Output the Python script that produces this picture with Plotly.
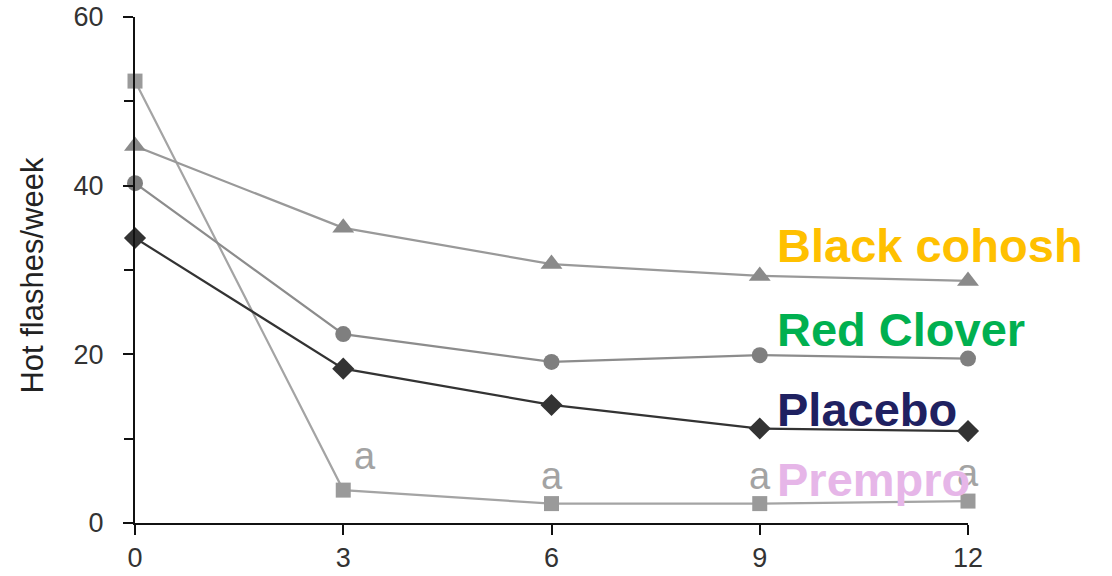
import plotly.graph_objects as go

months = [0, 3, 6, 9, 12]
prempro = [52.4, 3.9, 2.3, 2.3, 2.6]
black_cohosh = [44.7, 35.0, 30.7, 29.3, 28.7]
red_clover = [40.3, 22.4, 19.1, 19.9, 19.5]
placebo = [33.8, 18.3, 14.0, 11.2, 10.9]

x_ticks = [0, 3, 6, 9, 12]
y_ticks = [0, 20, 40, 60]

series = [
    ("Prempro", prempro, "square", "#9a9a9a", "#a4a4a4", 15),
    ("Black cohosh", black_cohosh, "triangle-up", "#8a8a8a", "#999999", 19),
    ("Red Clover", red_clover, "circle", "#7f7f7f", "#8c8c8c", 16),
    ("Placebo", placebo, "diamond", "#333333", "#333333", 17),
]

fig = go.Figure()
for name, vals, sym, mcol, lcol, size in series:
    fig.add_trace(go.Scatter(
        x=months, y=vals, mode="lines+markers", name=name,
        line=dict(color=lcol, width=2.2),
        marker=dict(symbol=sym, size=size, color=mcol),
        cliponaxis=False,
    ))

font_family = "Liberation Sans, Arial, sans-serif"

# significance marks above the Prempro series
sig_x = [3, 6, 9, 12]
sig_shift = [22, 0, 0, 0]
for xv, sx in zip(sig_x, sig_shift):
    yv = prempro[months.index(xv)]
    fig.add_annotation(x=xv, y=yv, text="a", showarrow=False,
                       xshift=sx, yshift=34 if xv == 3 else 28,
                       font=dict(family=font_family, size=38, color="#a3a3a3"))

labels = [
    ("Black cohosh", "#FFC000", 32.9),
    ("Red Clover", "#00B050", 22.9),
    ("Placebo", "#1F2161", 13.4),
    ("Prempro", "#E6B6E8", 5.1),
]
for text, col, yv in labels:
    fig.add_annotation(x=9.22, y=yv, text="<b>%s</b>" % text, showarrow=False,
                       xanchor="left", yanchor="middle",
                       font=dict(family=font_family, size=47, color=col))

fig.add_annotation(xref="paper", yref="paper", x=-0.123, y=0.49,
                   text="Hot flashes/week", textangle=-90, showarrow=False,
                   xanchor="center", yanchor="middle",
                   font=dict(family=font_family, size=31, color="#222222"))

fig.update_layout(
    width=1112, height=576,
    margin=dict(l=135, r=144, t=17, b=53, autoexpand=False),
    paper_bgcolor="white", plot_bgcolor="white",
    showlegend=False,
    font=dict(family=font_family, size=27, color="#333333"),
)
fig.update_xaxes(range=[0, 12], tickvals=x_ticks, showline=True, linecolor="#111111",
                 linewidth=2, ticks="outside", ticklen=10, tickwidth=2, tickcolor="#111111",
                 showgrid=False, zeroline=False, automargin=False,
                 ticklabelstandoff=0,
                 tickfont=dict(size=27, color="#333333"))
fig.update_yaxes(range=[0, 60], tickvals=y_ticks, showline=True, linecolor="#111111",
                 linewidth=2, ticks="outside", ticklen=10, tickwidth=2, tickcolor="#111111",
                 showgrid=False, zeroline=False, automargin=False,
                 ticklabelstandoff=14,
                 tickfont=dict(size=27, color="#333333"),
                 minor=dict(tickvals=[10, 30, 50], ticks="outside", ticklen=9,
                            tickwidth=2, tickcolor="#111111", showgrid=False))

fig.write_html("out.html")
